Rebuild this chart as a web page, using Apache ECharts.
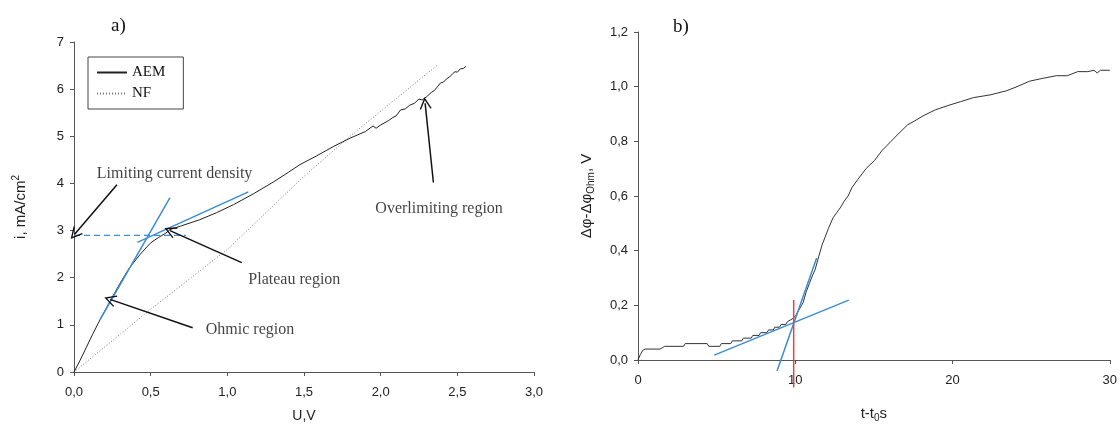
<!DOCTYPE html>
<html>
<head>
<meta charset="utf-8">
<script src="https://cdn.jsdelivr.net/npm/echarts@6/dist/echarts.min.js"></script>
<style>
  html, body { margin: 0; padding: 0; background: #fff; }
  #chart { width: 1120px; height: 428px; }
</style>
</head>
<body>
<div id="chart"></div>
<script>
// ---- a) current-voltage curves: [U (V), i (mA/cm2)] ----
const aemCurve = [
  [0, 0], [0.04, 0.25], [0.08, 0.52], [0.12, 0.79], [0.17, 1.11], [0.235, 1.50],
  [0.30, 1.88], [0.36, 2.20], [0.43, 2.49], [0.50, 2.74], [0.55, 2.85], [0.58, 2.91],
  [0.60, 2.95], [0.626, 3.02], [0.70, 3.10], [0.82, 3.23], [0.93, 3.38], [1.04, 3.55],
  [1.17, 3.78], [1.30, 4.03], [1.40, 4.24], [1.474, 4.40], [1.58, 4.58], [1.69, 4.78],
  [1.80, 4.96], [1.90, 5.10], [1.95, 5.22], [1.97, 5.17], [2.00, 5.24], [2.05, 5.33],
  [2.08, 5.40], [2.10, 5.43], [2.13, 5.56], [2.16, 5.58], [2.19, 5.66], [2.22, 5.70],
  [2.25, 5.79], [2.27, 5.77], [2.30, 5.84], [2.33, 5.93], [2.35, 5.97], [2.37, 6.05],
  [2.39, 6.13], [2.41, 6.15], [2.43, 6.22], [2.45, 6.26], [2.47, 6.33], [2.485, 6.37],
  [2.50, 6.36], [2.52, 6.43], [2.54, 6.44], [2.555, 6.48]
];
const nfCurve = [
  [0, 0], [0.5, 1.33], [1.0, 2.60], [1.5, 4.15], [1.8, 5.00], [2.366, 6.50]
];
// tangents and limiting current level on the AEM curve
const ohmicTangent = [[0.17, 1.11], [0.626, 3.70]];
const plateauTangent = [[0.413, 2.75], [1.137, 3.82]];
const limitingLevel = [[0, 2.9], [0.73, 2.9]];

// region labels and their arrows, in data units of plot a)
const regionNotes = [
  { text: 'Limiting current density', at: [0.656, 4.21], from: [0.28, 3.97], to: [0.004, 2.92] },
  { text: 'Plateau region', at: [1.437, 1.96], from: [1.094, 2.32], to: [0.626, 3.00] },
  { text: 'Ohmic region', at: [1.148, 0.89], from: [0.774, 0.94], to: [0.235, 1.54] },
  { text: 'Overlimiting region', at: [2.381, 3.47], from: [2.344, 4.02], to: [2.29, 5.70] }
];

// ---- b) potential drop transient: [t - t0 (s), V] ----
const potentialCurve = [
  [0, 0], [0.15, 0.02], [0.3, 0.035], [0.45, 0.04], [1.4, 0.04], [1.55, 0.045], [1.7, 0.05],
  [2.9, 0.05], [3.0, 0.06], [4.4, 0.06], [4.5, 0.05], [5.2, 0.05], [5.3, 0.06], [5.9, 0.06],
  [6.0, 0.07], [6.6, 0.07], [6.7, 0.08], [7.2, 0.08], [7.3, 0.09], [7.7, 0.09], [7.8, 0.10],
  [8.2, 0.10], [8.3, 0.11], [8.6, 0.11], [8.7, 0.12], [9.0, 0.12], [9.1, 0.13], [9.4, 0.13],
  [9.5, 0.14], [9.8, 0.15], [10.0, 0.16], [10.2, 0.18], [10.4, 0.20], [10.5, 0.21],
  [10.7, 0.25], [10.9, 0.28], [11.1, 0.31], [11.26, 0.33], [11.5, 0.38], [11.7, 0.42],
  [11.9, 0.45], [12.1, 0.48], [12.4, 0.52], [12.65, 0.54], [12.9, 0.56], [13.1, 0.58],
  [13.36, 0.60], [13.6, 0.63], [13.97, 0.66], [14.5, 0.70], [15.04, 0.73], [15.5, 0.765],
  [16.09, 0.80], [16.6, 0.83], [17.14, 0.86], [17.6, 0.875], [18.19, 0.895], [18.9, 0.915],
  [19.66, 0.93], [20.5, 0.945], [21.34, 0.96], [22.4, 0.97], [23.44, 0.985], [24.1, 1.00],
  [24.9, 1.02], [25.7, 1.03], [26.6, 1.04], [27.3, 1.04], [27.96, 1.055], [28.6, 1.055],
  [29.0, 1.06], [29.2, 1.05], [29.4, 1.06], [30, 1.06]
];
const baseTangent = [[4.85, 0.018], [13.4, 0.219]];
const riseTangent = [[8.84, -0.04], [11.36, 0.373]];
const transitionMarker = [[9.9, 0.22], [9.9, -0.10]];

// tick labels use a decimal comma
const commaFmt = (digits) => (v) => v.toFixed(digits).replace('.', ',');

const sans = 'Liberation Sans, Arial, sans-serif';
const serif = 'Liberation Serif, Times New Roman, serif';
const axisColor = '#555';
const blue = '#3a8dd3';

function axisBase(extra) {
  return Object.assign({
    type: 'value',
    splitLine: { show: false },
    axisLine: { show: true, onZero: false, lineStyle: { color: axisColor, width: 1 } },
    axisTick: { show: true, length: 4, inside: false, lineStyle: { color: axisColor } },
    axisLabel: { color: '#222', fontFamily: sans, fontSize: 13 },
    nameTextStyle: { color: '#222', fontFamily: sans, fontSize: 14 }
  }, extra);
}

const arrowHead = 'path://M0,0 L6,11 L4.8,11.6 L0,2.8 L-4.8,11.6 L-6,11 Z';

const chart = echarts.init(document.getElementById('chart'), null, { renderer: 'canvas' });

const option = {
  animation: false,
  backgroundColor: '#fff',
  title: [
    { text: 'a)', left: 106, top: 12, textStyle: { fontFamily: serif, fontSize: 19, fontWeight: 'normal', color: '#111' } },
    { text: 'b)', left: 668, top: 13, textStyle: { fontFamily: serif, fontSize: 19, fontWeight: 'normal', color: '#111' } }
  ],
  legend: {
    left: 88, top: 57,
    orient: 'vertical',
    data: ['AEM', 'NF'],
    itemWidth: 30, itemHeight: 10, itemGap: 6,
    padding: [8, 18, 8, 8],
    borderColor: '#444', borderWidth: 1,
    itemStyle: { opacity: 0 },
    textStyle: { fontFamily: serif, fontSize: 15, color: '#111' }
  },
  grid: [
    { left: 74, right: 586, top: 42, bottom: 55 },
    { left: 638, right: 6, top: 32, bottom: 63 }
  ],
  xAxis: [
    axisBase({
      gridIndex: 0, min: 0, max: 3, interval: 0.5,
      axisLabel: { color: '#222', fontFamily: sans, fontSize: 13, margin: 14, formatter: commaFmt(1) },
      name: 'U,V', nameLocation: 'middle', nameGap: 37
    }),
    axisBase({
      gridIndex: 1, min: 0, max: 30, interval: 10,
      axisLabel: { color: '#222', fontFamily: sans, fontSize: 13, margin: 14 },
      name: '{n|t-t}{s|0}{n|s}', nameLocation: 'middle', nameGap: 45,
      nameTextStyle: {
        rich: {
          n: { fontFamily: sans, fontSize: 15, color: '#222' },
          s: { fontFamily: sans, fontSize: 10, color: '#222', padding: [8, 0, 0, 0] }
        }
      }
    })
  ],
  yAxis: [
    axisBase({
      gridIndex: 0, min: 0, max: 7, interval: 1,
      axisLabel: { color: '#222', fontFamily: sans, fontSize: 13, margin: 10 },
      name: '{n|i, mA/cm}{s|2}', nameLocation: 'middle', nameGap: 44,
      nameTextStyle: {
        rich: {
          n: { fontFamily: sans, fontSize: 15, color: '#222' },
          s: { fontFamily: sans, fontSize: 10, color: '#222', padding: [0, 0, 9, 0] }
        }
      }
    }),
    axisBase({
      gridIndex: 1, min: 0, max: 1.2, interval: 0.2,
      axisLabel: { color: '#222', fontFamily: sans, fontSize: 13, margin: 10, formatter: commaFmt(1) },
      name: '{n|Δφ-Δφ}{s|Ohm}{n|, V}', nameLocation: 'middle', nameGap: 42,
      nameTextStyle: {
        rich: {
          n: { fontFamily: sans, fontSize: 15, color: '#222' },
          s: { fontFamily: sans, fontSize: 10, color: '#222', padding: [8, 0, 0, 0] }
        }
      }
    })
  ],
  series: [
    {
      name: 'AEM', type: 'line', xAxisIndex: 0, yAxisIndex: 0,
      data: aemCurve, showSymbol: false, symbol: 'none',
      lineStyle: { color: '#222', width: 1 }, itemStyle: { color: '#222' }, z: 3
    },
    {
      name: 'NF', type: 'line', xAxisIndex: 0, yAxisIndex: 0,
      data: nfCurve, showSymbol: false, symbol: 'none',
      lineStyle: { color: '#777', width: 1, type: [1, 2] }, itemStyle: { color: '#777' }, z: 2
    },
    {
      name: 'ohmic tangent', type: 'line', xAxisIndex: 0, yAxisIndex: 0,
      data: ohmicTangent, showSymbol: false, symbol: 'none',
      lineStyle: { color: blue, width: 1.5 }, z: 4
    },
    {
      name: 'plateau tangent', type: 'line', xAxisIndex: 0, yAxisIndex: 0,
      data: plateauTangent, showSymbol: false, symbol: 'none',
      lineStyle: { color: blue, width: 1.5 }, z: 4
    },
    {
      name: 'limiting level', type: 'line', xAxisIndex: 0, yAxisIndex: 0,
      data: limitingLevel, showSymbol: false, symbol: 'none',
      lineStyle: { color: blue, width: 1.3, type: [6, 4] }, z: 4
    },
    {
      // region labels with their arrows
      name: 'regions', type: 'scatter', xAxisIndex: 0, yAxisIndex: 0,
      symbolSize: 0,
      data: regionNotes.map(n => ({ value: n.at, name: n.text })),
      label: {
        show: true, position: 'inside', formatter: p => p.name,
        fontFamily: serif, fontSize: 16, color: '#111'
      },
      markLine: {
        silent: true, symbol: ['none', arrowHead], symbolSize: [12, 12],
        lineStyle: { color: '#111', width: 1.5, type: 'solid' },
        label: { show: false },
        data: regionNotes.map(n => [{ coord: n.from }, { coord: n.to }])
      },
      z: 6
    },
    {
      name: 'potential', type: 'line', xAxisIndex: 1, yAxisIndex: 1,
      data: potentialCurve, showSymbol: false, symbol: 'none',
      lineStyle: { color: '#333', width: 1 }, z: 3
    },
    {
      name: 'base tangent', type: 'line', xAxisIndex: 1, yAxisIndex: 1,
      data: baseTangent, showSymbol: false, symbol: 'none', clip: false,
      lineStyle: { color: blue, width: 1.5 }, z: 4
    },
    {
      name: 'rise tangent', type: 'line', xAxisIndex: 1, yAxisIndex: 1,
      data: riseTangent, showSymbol: false, symbol: 'none', clip: false,
      lineStyle: { color: blue, width: 1.5 }, z: 4
    },
    {
      name: 'transition time', type: 'line', xAxisIndex: 1, yAxisIndex: 1,
      data: transitionMarker, showSymbol: false, symbol: 'none', clip: false,
      lineStyle: { color: '#e8433a', width: 1.5 }, z: 5
    }
  ]
};

chart.setOption(option);
</script>
</body>
</html>
